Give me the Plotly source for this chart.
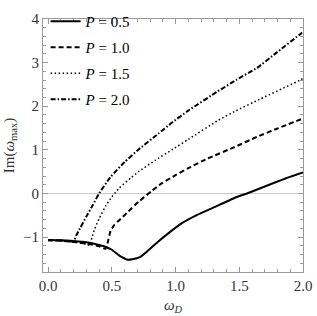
import plotly.graph_objects as go

# P = 0.5
w05 = [0, 0.1, 0.2, 0.3, 0.4, 0.45, 0.5, 0.556, 0.6, 0.625, 0.66, 0.72, 0.78, 0.865, 0.94, 1.05, 1.17, 1.3, 1.48, 1.56, 1.7, 1.85, 2.0]
v05 = [-1.065, -1.07, -1.09, -1.12, -1.18, -1.22, -1.29, -1.42, -1.49, -1.52, -1.51, -1.46, -1.32, -1.10, -0.92, -0.68, -0.49, -0.32, -0.08, 0.0, 0.16, 0.33, 0.48]
# P = 1.0
w10 = [0, 0.1, 0.2, 0.3, 0.4, 0.45, 0.47, 0.49, 0.52, 0.556, 0.63, 0.71, 0.81, 0.89, 1.0, 1.1, 1.25, 1.46, 1.64, 1.8, 2.0]
v10 = [-1.07, -1.08, -1.11, -1.15, -1.21, -1.27, -1.10, -0.86, -0.72, -0.62, -0.41, -0.19, 0.05, 0.23, 0.42, 0.58, 0.80, 1.06, 1.30, 1.49, 1.72]
# P = 1.5
w15 = [0, 0.1, 0.2, 0.3, 0.325, 0.345, 0.365, 0.4, 0.455, 0.5, 0.56, 0.65, 0.71, 0.84, 0.97, 1.1, 1.33, 1.47, 1.66, 1.985, 2.0]
v15 = [-1.07, -1.08, -1.11, -1.16, -1.19, -1.0, -0.82, -0.58, -0.27, -0.08, 0.13, 0.36, 0.50, 0.76, 1.0, 1.24, 1.67, 1.89, 2.16, 2.61, 2.64]
# P = 2.0
w20 = [0, 0.1, 0.2, 0.22, 0.25, 0.3, 0.35, 0.4, 0.49, 0.6, 0.71, 0.865, 0.97, 1.1, 1.33, 1.48, 1.64, 1.78, 1.985, 2.0]
v20 = [-1.07, -1.08, -1.1, -0.97, -0.8, -0.53, -0.27, 0.0, 0.38, 0.72, 1.01, 1.37, 1.62, 1.9, 2.34, 2.61, 2.88, 3.2, 3.67, 3.71]

labels = ["<i>P</i> = 0.5", "<i>P</i> = 1.0", "<i>P</i> = 1.5", "<i>P</i> = 2.0"]
series = [(w05, v05), (w10, v10), (w15, v15), (w20, v20)]
dashes = ["solid", "5px,3px", "1.5px,2.5px", "5px,2px,1.5px,2px"]
widths = [2, 2, 1.5, 2]

fig = go.Figure()
for i, ((w, v), lab) in enumerate(zip(series, labels)):
    fig.add_trace(go.Scatter(x=w, y=v, mode="lines", name=lab, legendgroup=str(i),
                             line=dict(color="black", width=widths[i], dash=dashes[i],
                                       shape="spline", smoothing=0.4)))

font = "Liberation Serif"
axis_common = dict(showline=True, linecolor="#9a9a9a", linewidth=1, mirror="ticks",
                   ticks="inside", ticklen=5, tickcolor="#9a9a9a", showgrid=False,
                   tickfont=dict(family=font, size=15, color="#333"))
fig.update_xaxes(range=[-0.04, 2.0], tickvals=[0, 0.5, 1.0, 1.5, 2.0],
                 ticktext=["0.0", "0.5", "1.0", "1.5", "2.0"], zeroline=False,
                 minor=dict(dtick=0.1, tick0=0, ticks="inside", ticklen=3, tickcolor="#9a9a9a"),
                 title=dict(text="<i>ω</i><sub><i>D</i></sub>", font=dict(family=font, size=15, color="#333"), standoff=6),
                 **axis_common)
fig.update_yaxes(range=[-1.8, 4.0], tickvals=[-1, 0, 1, 2, 3, 4],
                 ticktext=["−1", "0", "1", "2", "3", "4"], zeroline=True, zerolinecolor="#c8c8c8", zerolinewidth=1,
                 minor=dict(dtick=0.2, tick0=0, ticks="inside", ticklen=3, tickcolor="#9a9a9a"),
                 title=dict(text="Im(<i>ω</i><sub>max</sub>)", font=dict(family=font, size=15, color="#333"), standoff=4),
                 **axis_common)
fig.update_layout(width=317, height=316, margin=dict(l=43, r=10, t=5, b=42),
                  plot_bgcolor="white", paper_bgcolor="white",
                  legend=dict(x=0.01, y=1.055, xanchor="left", yanchor="top", bgcolor="rgba(0,0,0,0)",
                              font=dict(family=font, size=15, color="black"), tracegroupgap=3.5,
                              itemwidth=30),
                  showlegend=True)
fig.write_html("out.html", config={"displayModeBar": False},
               post_script="document.body.style.margin='0';document.body.style.overflow='hidden';")
